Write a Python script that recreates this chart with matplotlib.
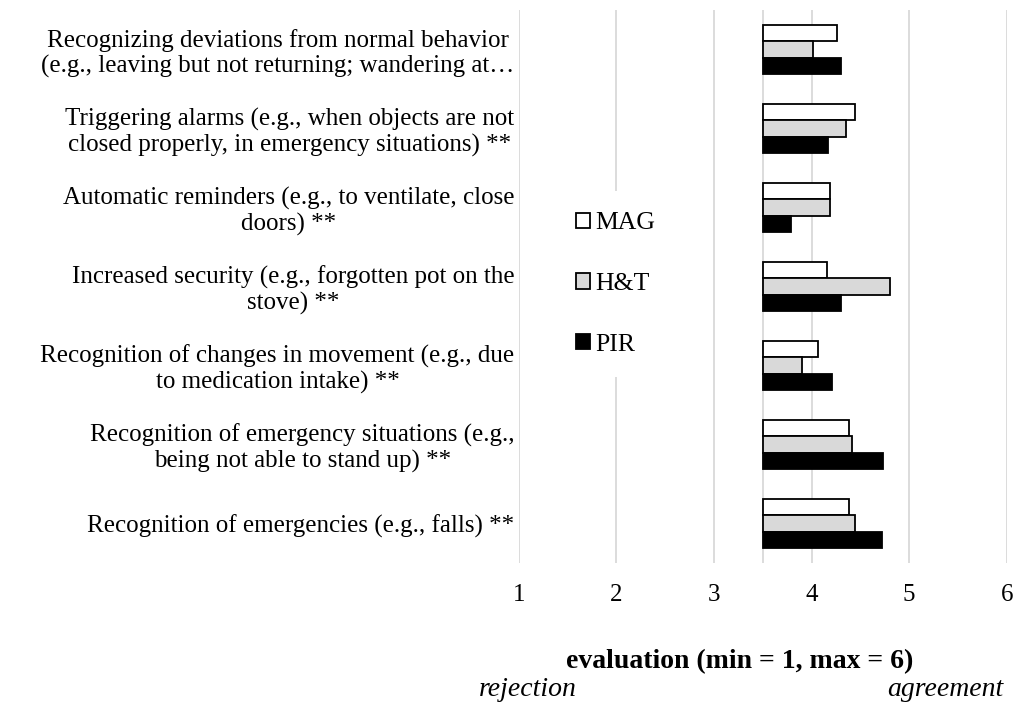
import matplotlib
matplotlib.use('Agg')
import matplotlib.pyplot as plt
import numpy as np

plt.rcParams['font.family'] = ['Liberation Serif', 'DejaVu Serif']

categories = [
    'Recognizing deviations from normal behavior\n(e.g., leaving but not returning; wandering at\u2026',
    'Triggering alarms (e.g., when objects are not\nclosed properly, in emergency situations) **',
    'Automatic reminders (e.g., to ventilate, close\ndoors) **',
    'Increased security (e.g., forgotten pot on the\nstove) **',
    'Recognition of changes in movement (e.g., due\nto medication intake) **',
    'Recognition of emergency situations (e.g.,\nbeing not able to stand up) **',
    'Recognition of emergencies (e.g., falls) **',
]
mag = [4.26, 4.45, 4.19, 4.16, 4.07, 4.38, 4.38]
ht = [4.02, 4.35, 4.19, 4.80, 3.90, 4.42, 4.45]
pir = [4.30, 4.17, 3.79, 4.30, 4.21, 4.73, 4.72]
series_names = ['MAG', 'H&T', 'PIR']
base = 3.5

fig = plt.figure(figsize=(10.27, 7.04), dpi=100)
ax = fig.add_axes([518.7 / 1027, 1 - 563 / 704, (1006.7 - 518.7) / 1027, 553 / 704])

y = np.arange(len(categories))
h = 0.21
fills = ['white', '#d9d9d9', 'black']
for k, (vals, col, name) in enumerate(zip([mag, ht, pir], fills, series_names)):
    w = np.array(vals) - base
    ax.barh(y + (k - 1) * h, w, height=h, left=base, color=col,
            edgecolor='black', linewidth=1.3, label=name, zorder=3)

ax.set_xlim(1, 6)
ax.set_ylim(len(categories) - 0.5, -0.5)
ax.set_xticks([1, 2, 3, 4, 5, 6])
ax.set_yticks(y)
ax.set_yticklabels(categories, multialignment='center', linespacing=1.15)
ax.tick_params(axis='both', length=0, labelsize=18)
ax.tick_params(axis='x', pad=15)
ax.tick_params(axis='y', pad=3)
for s in ax.spines.values():
    s.set_visible(False)
ax.grid(axis='x', color='#d9d9d9', linewidth=1.3, zorder=0)
ax.axvline(base, color='#d9d9d9', linewidth=1.3, zorder=1)

leg = ax.legend(loc='center left', bbox_to_anchor=(554 / 1027, 1 - 284 / 704),
                bbox_transform=fig.transFigure, frameon=True, fontsize=18.5,
                handlelength=0.55, handleheight=0.55, handletextpad=0.2,
                labelspacing=1.5, borderpad=0.85, borderaxespad=0)
leg.get_frame().set_facecolor('white')
leg.get_frame().set_edgecolor('none')
leg.get_frame().set_alpha(1)
leg.set_zorder(5)

fig.text(740 / 1027, 1 - 662 / 704, 'evaluation (min = 1, max = 6)',
         ha='center', va='center', fontsize=20, fontweight='bold')
fig.text(528 / 1027, 1 - 690 / 704, 'rejection', ha='center', va='center',
         fontsize=20, style='italic')
fig.text(945 / 1027, 1 - 690 / 704, 'agreement', ha='center', va='center',
         fontsize=20, style='italic')

fig.savefig('out.png', dpi=100)
